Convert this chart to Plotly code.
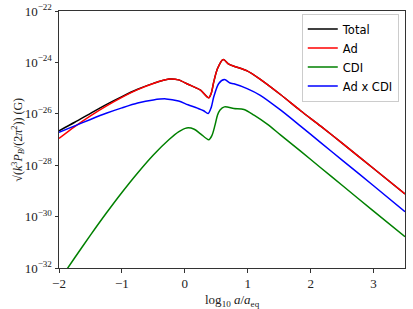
import plotly.graph_objects as go

# log10(a/a_eq) sample points and log10 of field amplitude (G)
x_ad = [-2.0, -1.75, -1.5, -1.25, -1.0, -0.75, -0.5, -0.25, -0.1, 0.05, 0.17, 0.25, 0.38, 0.42, 0.46,
        0.52, 0.61, 0.7, 0.78, 0.99, 1.2, 1.52, 1.84, 2.16, 2.5, 3.0, 3.5]
log_ad = [-26.96, -26.5, -26.08, -25.7, -25.36, -25.06, -24.82, -24.65, -24.68, -24.85, -24.98, -25.08,
          -25.38, -25.2, -24.76, -24.24, -23.89, -24.07, -24.15, -24.33, -24.66, -25.25, -25.88, -26.48,
          -27.14, -28.13, -29.12]

log_total = [-26.66, -26.33, -25.98, -25.64, -25.33, -25.045, -24.815, -24.65, -24.68, -24.85, -24.98,
             -25.08, -25.38, -25.2, -24.76, -24.24, -23.89, -24.07, -24.15, -24.33, -24.66, -25.25,
             -25.88, -26.48, -27.14, -28.13, -29.12]

x_cdi = [-2.0, -1.75, -1.5, -1.25, -1.0, -0.75, -0.5, -0.25, -0.1, 0.03, 0.15, 0.25, 0.38, 0.43,
         0.48, 0.52, 0.56, 0.63, 0.78, 0.94, 1.1, 1.31, 1.52, 1.84, 2.16, 2.5, 3.0, 3.5]
log_cdi = [-32.5, -31.6, -30.72, -29.87, -29.06, -28.3, -27.6, -27.0, -26.7, -26.55, -26.6,
           -26.78, -27.01, -26.85, -26.44, -26.05, -25.85, -25.73, -25.79, -25.83, -26.05, -26.4, -26.82,
           -27.45, -28.1, -28.78, -29.79, -30.78]

x_adcdi = [-2.0, -1.75, -1.5, -1.25, -1.0, -0.75, -0.5, -0.3, -0.1, 0.05, 0.2, 0.3, 0.37, 0.42, 0.46,
           0.54, 0.63, 0.72, 0.78, 0.99, 1.2, 1.52, 1.84, 2.16, 2.5, 3.0, 3.5]
log_adcdi = [-26.72, -26.47, -26.22, -25.98, -25.77, -25.58, -25.46, -25.42, -25.5, -25.65, -25.78,
             -25.88, -25.99, -25.75, -25.34, -24.82, -24.67, -24.8, -24.83, -25.02, -25.28, -25.85,
             -26.48, -27.12, -27.8, -28.8, -29.81]

y_tick_exp = [-32, -30, -28, -26, -24, -22]
x_ticks = [-2, -1, 0, 1, 2, 3]
x_tick_labels = ["\u22122", "\u22121", "0", "1", "2", "3"]

series = [
    ("Total", x_ad, log_total, "black"),
    ("Ad", x_ad, log_ad, "red"),
    ("CDI", x_cdi, log_cdi, "green"),
    ("Ad x CDI", x_adcdi, log_adcdi, "blue"),
]

fig = go.Figure()
for name, xs, ls, col in series:
    fig.add_trace(go.Scatter(
        x=xs, y=[10 ** v for v in ls], mode="lines", name=name,
        line=dict(color=col, width=1.5, shape="spline", smoothing=0.8),
    ))

serif = "Liberation Serif, DejaVu Serif, serif"
axis_common = dict(
    showgrid=False, zeroline=False, showline=True, linecolor="#333", linewidth=1,
    mirror=True, ticks="outside", ticklen=3.5, tickcolor="#333", automargin=False,
    tickfont=dict(family=serif, size=13, color="#222"),
)
fig.update_layout(
    width=413, height=309,
    margin=dict(l=59, r=8, t=11, b=41),
    paper_bgcolor="white", plot_bgcolor="white",
    font=dict(family=serif, size=13, color="#222"),
    showlegend=True,
    legend=dict(
        x=0.982, y=0.99, xanchor="right", yanchor="top",
        bgcolor="rgba(255,255,255,0.9)", bordercolor="#cccccc", borderwidth=1,
        font=dict(family="DejaVu Sans, sans-serif", size=11.5, color="black"),
        tracegroupgap=0, itemwidth=30,
    ),
    xaxis=dict(range=[-2, 3.5], tickvals=x_ticks, ticktext=x_tick_labels, **axis_common),
    yaxis=dict(
        type="log", range=[-32, -22],
        tickvals=[10 ** e for e in y_tick_exp],
        ticktext=["10<sup>\u2212%d</sup>" % (-e) for e in y_tick_exp],
        **axis_common,
    ),
    annotations=[
        dict(text="log<sub>10</sub> <i>a</i>/<i>a</i><sub>eq</sub>", xref="paper", yref="paper",
             x=0.5, y=-0.128, xanchor="center", yanchor="middle", showarrow=False,
             font=dict(family=serif, size=13, color="#222")),
        dict(text="\u221a(<i>k</i><sup>3</sup><i>P</i><sub><i>B</i></sub>/(2<i>\u03c0</i><sup>2</sup>)) (G)",
             xref="paper", yref="paper", x=-0.118, y=0.5, xanchor="center", yanchor="middle",
             textangle=-90, showarrow=False, font=dict(family=serif, size=12, color="#222")),
    ],
)

fig.write_html("out.html", config={"displayModeBar": False},
               post_script="document.body.style.margin='0';")
